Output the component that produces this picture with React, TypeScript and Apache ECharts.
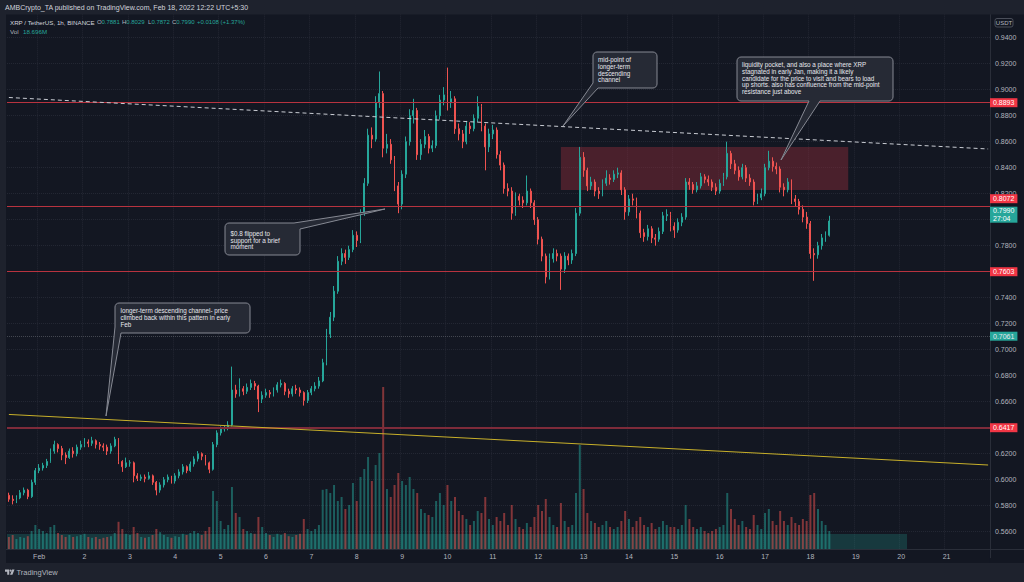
import React, { useEffect, useRef } from "react";
import * as echarts from "echarts";

const FONT = '"Liberation Sans", "DejaVu Sans", sans-serif';

// 2-hour candles, first candle starts Jan 31 08:00
const START_UTC = Date.UTC(2022, 0, 31, 8);
const SLOT_HOURS = 2;
const TOTAL_SLOTS = 260;
const FIRST_OPEN_MILLI = 588;

// prices in thousandths of USDT
const closeMilli = [
  585, 584, 586, 590, 592, 587, 598, 607,
  609, 611, 614, 622, 627, 624, 619, 617, 622, 620, 625, 627,
  629, 628, 630, 627, 626, 625, 622, 626, 631, 614, 610, 613,
  613, 603, 601, 602, 601, 603, 598, 592, 596, 600, 602, 599,
  603, 606, 610, 607, 612, 616, 620, 618, 613, 608, 627, 636,
  639, 640, 642, 669, 666, 670, 668, 671, 674, 672, 662, 665,
  667, 666, 669, 673, 674, 668, 666, 670, 669, 667, 661, 667,
  670, 672, 676, 690, 712, 725, 745, 768, 774, 771, 777, 788,
  784, 805, 828, 865, 862, 890, 897, 855, 858, 846, 826, 812,
  835, 860, 880, 884, 850, 858, 864, 855, 857, 880, 892, 896,
  890, 893, 870, 866, 860, 872, 870, 878, 887, 872, 856, 866,
  869, 850, 842, 824, 822, 805, 818, 815, 813, 822, 813, 800,
  785, 772, 756, 770, 774, 772, 762, 772, 769, 774, 805, 848,
  838, 826, 829, 822, 820, 828, 832, 831, 835, 836, 823, 806,
  816, 815, 805, 790, 787, 793, 786, 785, 791, 803, 804, 795,
  792, 798, 802, 829, 827, 823, 826, 833, 831, 829, 825, 822,
  828, 833, 851, 843, 838, 833, 840, 832, 829, 814, 817, 820,
  840, 845, 841, 839, 825, 823, 829, 816, 814, 808, 802, 797,
  774, 773, 780, 786, 788, 799,
];

const highMilli = [
  590, 588, 588, 592, 594, 593, 600, 609,
  612, 613, 616, 624, 630, 628, 626, 621, 624, 625, 627, 630,
  632, 631, 633, 631, 629, 628, 627, 628, 633, 632, 615, 617,
  615, 614, 605, 604, 604, 606, 604, 599, 598, 602, 604, 603,
  605, 608, 612, 611, 614, 618, 622, 621, 619, 614, 629, 638,
  641, 642, 645, 687, 673, 678, 672, 674, 677, 676, 673, 668,
  670, 669, 671, 675, 677, 675, 670, 672, 673, 671, 668, 669,
  672, 675, 679, 693, 716, 729, 749, 772, 778, 777, 780, 792,
  791, 808, 832, 870, 871, 895, 914, 899, 866, 862, 849, 829,
  838, 864, 885, 893, 886, 862, 869, 866, 861, 884, 896, 902,
  917, 899, 895, 874, 869, 876, 875, 881, 895, 889, 874, 870,
  873, 871, 853, 844, 828, 825, 821, 820, 818, 834, 824, 815,
  802, 787, 774, 774, 778, 777, 774, 775, 774, 777, 809, 856,
  852, 840, 833, 831, 825, 831, 838, 835, 838, 840, 838, 825,
  819, 820, 817, 807, 793, 796, 795, 789, 794, 806, 808, 806,
  798, 801, 805, 832, 832, 829, 829, 836, 835, 834, 831, 828,
  831, 836, 860, 853, 846, 841, 843, 842, 835, 831, 820, 824,
  843, 853, 848, 844, 841, 828, 832, 831, 819, 816, 811, 806,
  799, 778, 783, 789, 791, 803,
];

const lowMilli = [
  583, 581, 582, 585, 588, 585, 586, 596,
  605, 607, 609, 613, 620, 621, 615, 612, 616, 617, 618, 623,
  625, 625, 626, 624, 623, 622, 619, 620, 625, 612, 606, 609,
  610, 598, 599, 599, 598, 600, 596, 588, 590, 594, 598, 597,
  597, 601, 604, 605, 606, 610, 614, 615, 611, 605, 607, 625,
  634, 637, 638, 641, 663, 664, 665, 666, 669, 669, 652, 659,
  663, 663, 664, 667, 671, 665, 663, 664, 666, 664, 657, 659,
  665, 668, 670, 675, 688, 709, 722, 743, 765, 766, 769, 775,
  779, 782, 803, 826, 855, 860, 886, 848, 851, 843, 822, 805,
  808, 832, 857, 874, 846, 846, 855, 851, 852, 855, 877, 888,
  884, 886, 866, 861, 855, 858, 866, 868, 875, 868, 838, 852,
  862, 847, 838, 820, 818, 800, 803, 811, 809, 811, 809, 796,
  781, 768, 751, 754, 767, 768, 746, 759, 765, 766, 772, 803,
  833, 822, 823, 818, 816, 818, 826, 827, 829, 832, 819, 800,
  803, 811, 801, 786, 783, 784, 782, 780, 783, 789, 799, 791,
  786, 790, 795, 800, 823, 820, 821, 824, 828, 826, 822, 819,
  820, 826, 831, 839, 835, 830, 831, 829, 826, 811, 812, 815,
  818, 838, 837, 835, 821, 818, 821, 812, 810, 804, 798, 793,
  770, 753, 770, 777, 783, 787,
];

// volume in millions per 2h candle
const volumeM = [
  30, 35, 25, 30, 28, 32, 45, 60,
  50, 45, 40, 55, 60, 40, 35, 30, 35, 30, 32, 35,
  38, 30, 28, 30, 25, 28, 30, 32, 40, 68, 50, 38,
  35, 55, 40, 30, 28, 30, 35, 50, 42, 35, 30, 28,
  32, 30, 38, 35, 40, 45, 40, 35, 45, 55, 145, 120,
  70, 50, 60, 155, 90, 80, 50, 45, 40, 38, 80, 55,
  40, 35, 30, 38, 35, 40, 32, 30, 35, 38, 75, 50,
  45, 50, 60, 148, 150, 140, 160, 120, 130, 100, 110, 165,
  120, 180, 200, 230, 170, 210, 240, 405, 150, 130, 160, 190,
  170, 160, 180, 150, 140, 100, 90, 85, 80, 120, 140, 110,
  160, 120, 130, 95, 85, 75, 60, 70, 95, 90, 130, 75,
  60, 80, 70, 90, 60, 110, 75, 55, 50, 65, 55, 80,
  110, 95, 125, 80, 60, 55, 115, 70, 55, 60, 140, 260,
  150, 90, 70, 65, 55, 60, 70, 55, 50, 55, 70, 95,
  75, 55, 70, 80, 60, 55, 65, 50, 55, 70, 60, 55,
  55, 50, 60, 110, 75, 55, 50, 55, 45, 40, 45, 50,
  55, 60, 140, 100, 75, 60, 70, 55, 50, 85, 60, 50,
  90, 100, 70, 60, 95, 70, 60, 80, 65, 60, 75, 70,
  135, 140, 100, 70, 60, 45,
];

// horizontal levels drawn by the author
const redLevels = [0.8893, 0.8072, 0.7603, 0.6417];
const secondaryLevel = 0.7061;
const lastPrice = 0.799;
const lastCountdown = "27:04";
// price-scale ticks hidden behind the level boxes
const coveredTicks = ["0.8000", "0.7600", "0.6400"];
// trend lines: [slot, price] endpoints
const channelLower = [[0, 0.6502], [259, 0.6113]];
const channelMid = [[0, 0.894], [259, 0.8544]];
// liquidity pocket: [slot, price] corners
const pocket = [[146, 0.856], [222, 0.8228]];

const headerText = "AMBCrypto_TA published on TradingView.com, Feb 18, 2022 12:22 UTC+5:30";
const symbolText = "XRP / TetherUS, 1h, BINANCE";
const ohlcLabels = ["O", "H", "L", "C"];
const ohlcValues = ["0.7881", "0.8029", "0.7872", "0.7990"];
const changeText = "+0.0108 (+1.37%)";
const volText = "18.696M";

const note1 = "mid-point of\nlonger-term\ndescending\nchannel";
const note2 =
  "liquidity pocket, and also a place where XRP\nstagnated in early Jan, making it a likely\ncandidate for the price to visit and bears to load\nup shorts. also has confluence from the mid-point\nresistance just above";
const note3 = "$0.8 flipped to\nsupport for a brief\nmoment";
const note4 = "longer-term descending channel- price\nclimbed back within this pattern in early\nFeb";

const UP = "#26a69a";
const DOWN = "#ef5350";

function pad(n: number) {
  return n < 10 ? "0" + n : String(n);
}

const categories: string[] = [];
for (let i = 0; i < TOTAL_SLOTS; i++) {
  const d = new Date(START_UTC + i * SLOT_HOURS * 3600000);
  categories.push(
    `${d.getUTCFullYear()}-${pad(d.getUTCMonth() + 1)}-${pad(d.getUTCDate())} ${pad(d.getUTCHours())}:00`
  );
}

const isMidnight = (_i: number, v: string) => String(v).slice(11, 13) === "00";
const dayLabel = (v: string) => {
  const day = parseInt(String(v).slice(8, 10), 10);
  return day === 1 ? "Feb" : String(day);
};

function arc(cx: number, cy: number, r: number, a0: number, a1: number) {
  const pts: number[][] = [];
  for (let k = 0; k <= 4; k++) {
    const a = ((a0 + ((a1 - a0) * k) / 4) * Math.PI) / 180;
    pts.push([cx + r * Math.cos(a), cy + r * Math.sin(a)]);
  }
  return pts;
}

function box(x0: number, y0: number, x1: number, y1: number, r: number) {
  return {
    tl: arc(x0 + r, y0 + r, r, 180, 270),
    tr: arc(x1 - r, y0 + r, r, 270, 360),
    br: arc(x1 - r, y1 - r, r, 0, 90),
    bl: arc(x0 + r, y1 - r, r, 90, 180),
  };
}

export default function App() {
  const ref = useRef<HTMLDivElement>(null);

  useEffect(() => {
    if (!ref.current) return;
    echarts.graphic.registerShape(
      "tvlogo",
      echarts.graphic.extendPath("M0 0H5V5.6H2.6V2.3H0Z M8.4 0H11.2L8.7 5.6H5.9Z", {}) as any
    );
    const chart = echarts.init(ref.current, undefined, { renderer: "svg" });

    const opens = closeMilli.map((_c, i) => (i === 0 ? FIRST_OPEN_MILLI : closeMilli[i - 1]));
    const candleData = closeMilli.map((c, i) => [
      opens[i] / 1000,
      c / 1000,
      lowMilli[i] / 1000,
      highMilli[i] / 1000,
    ]);
    const volData = volumeM.map((v, i) => ({
      value: v,
      itemStyle: {
        color: closeMilli[i] >= opens[i] ? "rgba(38,166,154,0.5)" : "rgba(239,83,80,0.5)",
      },
    }));

    const boxLabel = (text: string, bg: string, offsetY: number, extra: any = {}) => ({
      show: true,
      position: "end",
      distance: 0,
      formatter: text,
      backgroundColor: bg,
      color: "#ffffff",
      padding: [1, 3, 0, 3],
      fontSize: 7,
      lineHeight: 8,
      fontFamily: FONT,
      offset: [0, offsetY],
      ...extra,
    });

    const levelLines: any[] = redLevels.map((v, k) => ({
      yAxis: v,
      lineStyle: {
        color: k === 3 ? "#7e2b3a" : "#b8333f",
        width: k === 3 ? 2 : 1,
        type: "solid",
        opacity: 1,
      },
      label: boxLabel(v.toFixed(4), "#f23645", k === 1 ? -8 : 0),
    }));
    levelLines.push({
      yAxis: secondaryLevel,
      lineStyle: { color: "rgba(178,181,190,0.3)", width: 1, type: "dotted" },
      label: boxLabel(secondaryLevel.toFixed(4), "#26a69a", -0.5, { color: "#e8eaf0" }),
    });
    levelLines.push({
      yAxis: lastPrice,
      lineStyle: { color: "rgba(38,166,154,0)", width: 1 },
      label: boxLabel(lastPrice.toFixed(4) + "\n" + lastCountdown, "#26a69a", -5, { lineHeight: 7.5 }),
    });
    levelLines.push([
      { coord: channelLower[0], lineStyle: { color: "#c8b02a", width: 1, type: "solid" }, label: { show: false } },
      { coord: channelLower[1] },
    ]);
    levelLines.push([
      { coord: channelMid[0], lineStyle: { color: "#c9ccd3", width: 1, type: [4, 3] }, label: { show: false } },
      { coord: channelMid[1] },
    ]);

    const b1 = box(593, 52, 657, 88, 4);
    const b2 = box(737, 57, 893, 101, 4);
    const b3 = box(225, 223, 300, 255, 4);
    const b4 = box(115, 303, 250, 333, 4);
    const callouts = [
      [...b1.tl, ...b1.tr, ...b1.br, [598, 88], [563, 126], [593, 83]],
      [...b2.tl, ...b2.tr, ...b2.br, [820, 101], [781, 160], [809, 101], ...b2.bl],
      [...b3.tl, [294, 223], [385, 209], [300, 229], ...b3.br, ...b3.bl],
      [...b4.tl, ...b4.tr, ...b4.br, [121, 333], [106, 416], [115, 327]],
    ];
    const notes = [
      { text: note1, x: 598, y: 56.5 },
      { text: note2, x: 742, y: 61.5 },
      { text: note3, x: 230.5, y: 230 },
      { text: note4, x: 120.5, y: 307.5 },
    ];

    const txt = (text: string, x: number, y: number, fill: string, size: number, extra: any = {}) => ({
      type: "text",
      x,
      y,
      z: 13,
      silent: true,
      style: { text, fill, fontSize: size, fontFamily: FONT, verticalAlign: "middle", ...extra },
    });

    const ohlcX = [97, 122, 148, 172];
    const letterW = [4.4, 4.2, 3.4, 4.2];
    const graphics: any[] = [
      { type: "rect", z: 1, silent: true, shape: { x: 7, y: 534, width: 900, height: 15 }, style: { fill: "rgba(38,166,154,0.24)" } },
      { type: "rect", z: 10, silent: true, shape: { x: 0, y: 0, width: 1024, height: 14.5 }, style: { fill: "#1e222d" } },
      { type: "rect", z: 10, silent: true, shape: { x: 0, y: 0, width: 6, height: 582 }, style: { fill: "#1e222d" } },
      { type: "rect", z: 10, silent: true, shape: { x: 6, y: 549.5, width: 983.5, height: 14 }, style: { fill: "#131722" } },
      { type: "rect", z: 10, silent: true, shape: { x: 0, y: 563, width: 1024, height: 19 }, style: { fill: "#1e222d" } },
      { type: "line", z: 11, silent: true, shape: { x1: 6, y1: 549.5, x2: 1024, y2: 549.5 }, style: { stroke: "#2a2e39", lineWidth: 1 } },
      txt(headerText, 5, 7.5, "#d1d4dc", 7),
      txt(symbolText, 10, 22.3, "#d1d4dc", 6.2),
      ...ohlcLabels.map((l, k) => txt(l, ohlcX[k], 22.3, "#b2b5be", 6)),
      ...ohlcValues.map((v, k) => txt(v, ohlcX[k] + letterW[k], 22.3, UP, 6)),
      txt(changeText, 197, 22.3, UP, 6),
      txt("Vol", 10, 31.7, "#b2b5be", 6.2),
      txt(volText, 23, 31.7, UP, 6.2),
      { type: "rect", z: 12, silent: true, shape: { x: 995, y: 18.5, width: 18, height: 8.5, r: 2 }, style: { fill: "none", stroke: "#4a4e59", lineWidth: 1 } },
      txt("USDT", 1004, 22.8, "#b2b5be", 6, { align: "center" }),
      { type: "tvlogo", z: 13, silent: true, x: 5, y: 569.5, scaleX: 0.85, scaleY: 0.95, style: { fill: "#b2b5be" } },
      { type: "circle", z: 13, silent: true, shape: { cx: 10.6, cy: 570.6, r: 1.1 }, style: { fill: "#b2b5be" } },
      txt("TradingView", 16.5, 572.5, "#b2b5be", 7.5),
      ...callouts.map((pts) => ({
        type: "polygon",
        z: 12,
        silent: true,
        shape: { points: pts },
        style: { fill: "#262a35", stroke: "#868993", lineWidth: 1 },
      })),
      ...notes.map((n) => ({
        type: "text",
        z: 13,
        silent: true,
        x: n.x,
        y: n.y,
        style: { text: n.text, fill: "#e6e8ee", fontSize: 6.3, fontFamily: FONT, lineHeight: 6.7, verticalAlign: "top" },
      })),
    ];

    chart.setOption({
      animation: false,
      backgroundColor: "#131722",
      textStyle: { fontFamily: FONT },
      grid: [
        { left: 7, right: 34, top: 11.7, height: 546 },
        { left: 7, right: 34, top: 369, height: 180 },
      ],
      xAxis: [
        {
          type: "category",
          gridIndex: 0,
          data: categories,
          boundaryGap: true,
          axisLine: { show: false },
          axisTick: { show: false },
          axisLabel: { show: false },
          splitLine: { show: true, interval: isMidnight, lineStyle: { color: "#232733", type: "dotted", width: 1 } },
        },
        {
          type: "category",
          gridIndex: 1,
          data: categories,
          boundaryGap: true,
          z: 20,
          axisLine: { show: false },
          axisTick: { show: false },
          axisLabel: {
            interval: isMidnight,
            formatter: dayLabel,
            color: "#b2b5be",
            fontSize: 7,
            fontFamily: FONT,
            margin: 4,
          },
          splitLine: { show: false },
        },
      ],
      yAxis: [
        {
          type: "value",
          gridIndex: 0,
          position: "right",
          min: 0.54,
          max: 0.96,
          interval: 0.02,
          axisLine: { show: true, lineStyle: { color: "#2a2e39" } },
          axisTick: { show: false },
          axisLabel: {
            showMinLabel: false,
            showMaxLabel: false,
            formatter: (v: number) => {
              const s = v.toFixed(4);
              return coveredTicks.indexOf(s) >= 0 ? "" : s;
            },
            color: "#b2b5be",
            fontSize: 7,
            lineHeight: 7,
            fontFamily: FONT,
            margin: 5,
          },
          splitLine: {
            show: true,
            showMinLine: false,
            showMaxLine: false,
            lineStyle: { color: "#232733", type: "dotted", width: 1 },
          },
        },
        { type: "value", gridIndex: 1, min: 0, max: 450, show: false },
      ],
      series: [
        {
          type: "bar",
          xAxisIndex: 1,
          yAxisIndex: 1,
          data: volData,
          barWidth: 2,
          silent: true,
        },
        {
          type: "candlestick",
          xAxisIndex: 0,
          yAxisIndex: 0,
          data: candleData,
          barWidth: 1.4,
          clip: false,
          silent: true,
          itemStyle: {
            color: UP,
            color0: DOWN,
            borderColor: UP,
            borderColor0: DOWN,
            borderWidth: 1,
          },
          markArea: {
            silent: true,
            data: [
              [
                { coord: pocket[0], itemStyle: { color: "rgba(150,45,60,0.42)" } },
                { coord: pocket[1] },
              ],
            ],
          },
          markLine: {
            silent: true,
            symbol: ["none", "none"],
            animation: false,
            data: levelLines,
          },
        },
      ],
      graphic: graphics,
    });

    return () => chart.dispose();
  }, []);

  return (
    <div
      ref={ref}
      style={{ position: "fixed", left: 0, top: 0, width: 1024, height: 582 }}
    />
  );
}
